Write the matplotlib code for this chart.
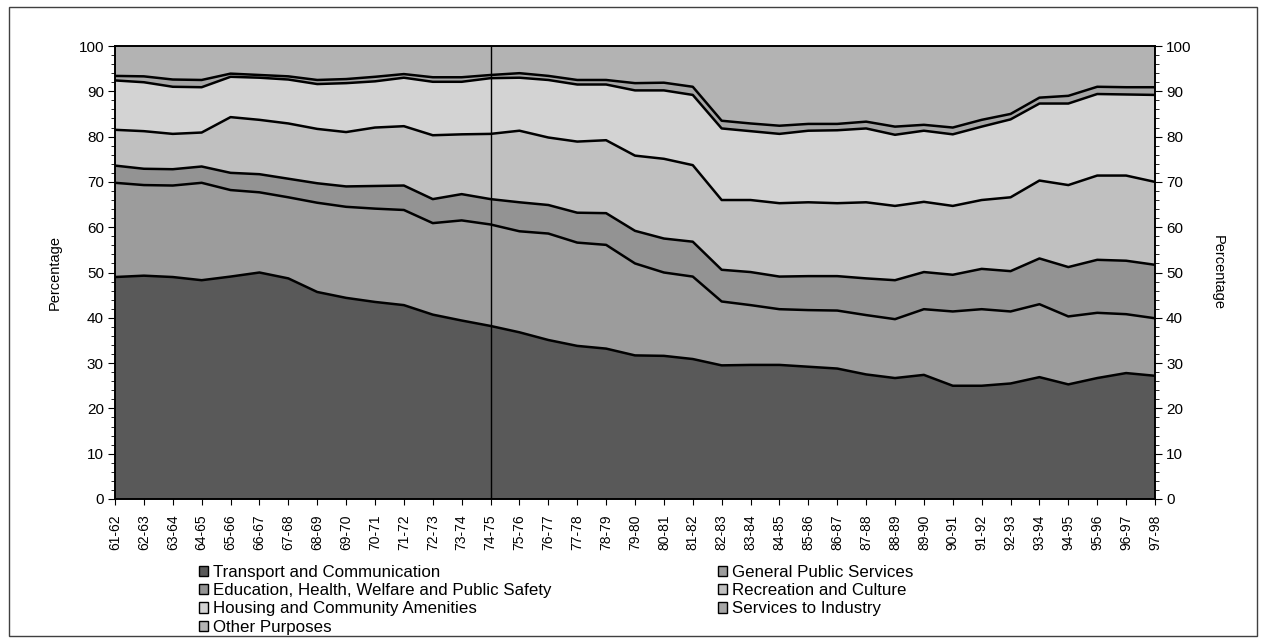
import numpy as np
import matplotlib
matplotlib.use("Agg")
import matplotlib.pyplot as plt
from matplotlib.patches import Patch, Rectangle
from matplotlib.ticker import MultipleLocator

plt.rcParams['font.family'] = ['Liberation Sans', 'DejaVu Sans']

years = ["61-62", "62-63", "63-64", "64-65", "65-66", "66-67", "67-68", "68-69", "69-70",
         "70-71", "71-72", "72-73", "73-74", "74-75", "75-76", "76-77", "77-78", "78-79",
         "79-80", "80-81", "81-82", "82-83", "83-84", "84-85", "85-86", "86-87", "87-88",
         "88-89", "89-90", "90-91", "91-92", "92-93", "93-94", "94-95", "95-96", "96-97", "97-98"]

transport = [49.0, 49.3, 49.0, 48.3, 49.1, 50.0, 48.7, 45.7, 44.4, 43.5, 42.8, 40.7, 39.4, 38.2,
             36.8, 35.1, 33.8, 33.2, 31.7, 31.6, 30.9, 29.5, 29.6, 29.6, 29.2, 28.8, 27.5, 26.7,
             27.4, 25.0, 25.0, 25.5, 26.9, 25.3, 26.7, 27.8, 27.2]
general = [20.8, 20.0, 20.2, 21.5, 19.1, 17.7, 17.9, 19.7, 20.1, 20.6, 21.0, 20.2, 22.1, 22.4,
           22.3, 23.5, 22.8, 22.9, 20.3, 18.4, 18.2, 14.1, 13.2, 12.3, 12.5, 12.8, 13.1, 13.0,
           14.5, 16.4, 16.9, 15.9, 16.1, 15.0, 14.4, 13.0, 12.7]
education = [3.8, 3.6, 3.6, 3.6, 3.8, 4.0, 4.1, 4.3, 4.5, 5.0, 5.4, 5.3, 5.8, 5.6,
             6.4, 6.3, 6.6, 7.0, 7.2, 7.5, 7.7, 7.0, 7.3, 7.2, 7.5, 7.6, 8.1, 8.6,
             8.2, 8.1, 8.9, 8.9, 10.1, 10.9, 11.7, 11.8, 11.8]
recreation = [7.9, 8.3, 7.8, 7.5, 12.3, 12.0, 12.2, 12.0, 12.0, 12.9, 13.1, 14.1, 13.2, 14.4,
              15.8, 14.9, 15.7, 16.1, 16.6, 17.6, 16.9, 15.4, 15.9, 16.2, 16.3, 16.1, 16.8, 16.4,
              15.5, 15.2, 15.2, 16.3, 17.2, 18.1, 18.6, 18.8, 18.3]
housing = [10.9, 10.8, 10.4, 10.0, 8.9, 9.3, 9.7, 9.9, 10.8, 10.2, 10.7, 11.8, 11.6, 12.3,
           11.7, 12.7, 12.6, 12.3, 14.4, 15.1, 15.5, 15.8, 15.2, 15.3, 15.8, 16.1, 16.3, 15.7,
           15.7, 15.8, 16.2, 17.2, 17.0, 18.0, 18.0, 17.9, 19.2]
services = [1.0, 1.3, 1.6, 1.6, 0.7, 0.6, 0.7, 0.9, 0.9, 1.0, 0.8, 1.0, 1.0, 0.7,
            1.0, 0.9, 1.0, 1.0, 1.6, 1.7, 1.8, 1.7, 1.7, 1.8, 1.5, 1.4, 1.5, 1.8,
            1.3, 1.5, 1.5, 1.2, 1.3, 1.7, 1.6, 1.6, 1.7]
other = [6.6, 6.7, 7.4, 7.5, 6.1, 6.4, 6.7, 7.5, 7.3, 6.8, 6.2, 6.9, 6.9, 6.4,
         6.0, 6.6, 7.5, 7.5, 8.2, 8.1, 9.0, 16.5, 17.1, 17.6, 17.2, 17.2, 16.7, 17.8,
         17.4, 18.0, 16.3, 15.0, 11.4, 11.0, 9.0, 9.1, 9.1]

labels = ["Transport and Communication", "General Public Services",
          "Education, Health, Welfare and Public Safety", "Recreation and Culture",
          "Housing and Community Amenities", "Services to Industry", "Other Purposes"]
colors = ["#595959", "#9c9c9c", "#939393", "#c0c0c0", "#d3d3d3", "#a6a6a6", "#b3b3b3"]

series = np.array([transport, general, education, recreation, housing, services, other])
cum = np.cumsum(series, axis=0)
x = np.arange(len(years))

fig = plt.figure(figsize=(12.61, 6.40), dpi=100)
ax = fig.add_axes([115 / 1261, 141 / 640, 1040 / 1261, 453 / 640])

lower = np.zeros(len(years))
for k in range(len(series)):
    upper = cum[k]
    ax.fill_between(x, lower, upper, facecolor=colors[k], edgecolor='none', linewidth=0, zorder=1)
    lower = upper
for k in range(len(series) - 1):
    ax.plot(x, cum[k], color='black', linewidth=1.8, zorder=3)

ax.axvline(13, color='black', linewidth=1.0, zorder=4)

ax.set_xlim(0, len(years) - 1)
ax.set_ylim(0, 100)
ax.set_xticks(x)
ax.set_xticklabels(years, rotation=90, fontsize=10)
ax.yaxis.set_major_locator(MultipleLocator(10))
ax.yaxis.set_minor_locator(MultipleLocator(2))
ax.tick_params(axis='y', which='major', length=5, direction='out', labelsize=11, pad=3)
ax.tick_params(axis='y', which='minor', length=3, direction='out')
ax.tick_params(axis='x', length=4, direction='out', pad=7)
ax.set_ylabel("Percentage", fontsize=10.5)
for s in ax.spines.values():
    s.set_linewidth(1.2)
    s.set_zorder(5)

ax2 = ax.twinx()
ax2.set_ylim(0, 100)
ax2.yaxis.set_major_locator(MultipleLocator(10))
ax2.yaxis.set_minor_locator(MultipleLocator(2))
ax2.tick_params(axis='y', which='major', length=5, direction='out', labelsize=11, pad=3)
ax2.tick_params(axis='y', which='minor', length=3, direction='out')
ax2.set_ylabel("Percentage", fontsize=10.5, rotation=270)
for s in ax2.spines.values():
    s.set_linewidth(1.2)

ax.yaxis.set_label_coords(-0.051, 0.5)
ax2.yaxis.set_label_coords(1.067, 0.5)

handles = [Patch(facecolor=c, edgecolor='black', linewidth=1.0) for c in colors]
col1 = [0, 2, 4, 6]
col2 = [1, 3, 5]
for idx, xpos in ((col1, 199), (col2, 718)):
    fig.legend([handles[i] for i in idx], [labels[i] for i in idx],
               loc='upper left', bbox_to_anchor=(xpos / 1261, 1 - 565 / 640),
               frameon=False, fontsize=12.2, borderpad=0, borderaxespad=0,
               handlelength=0.55, handleheight=0.55, handletextpad=0.3,
               labelspacing=0.19)

fig.patches.append(Rectangle((9 / 1261, 4 / 640), 1248 / 1261, 629 / 640,
                             transform=fig.transFigure, fill=False,
                             edgecolor='#404040', linewidth=1.0))

fig.savefig("out.png", dpi=100)
